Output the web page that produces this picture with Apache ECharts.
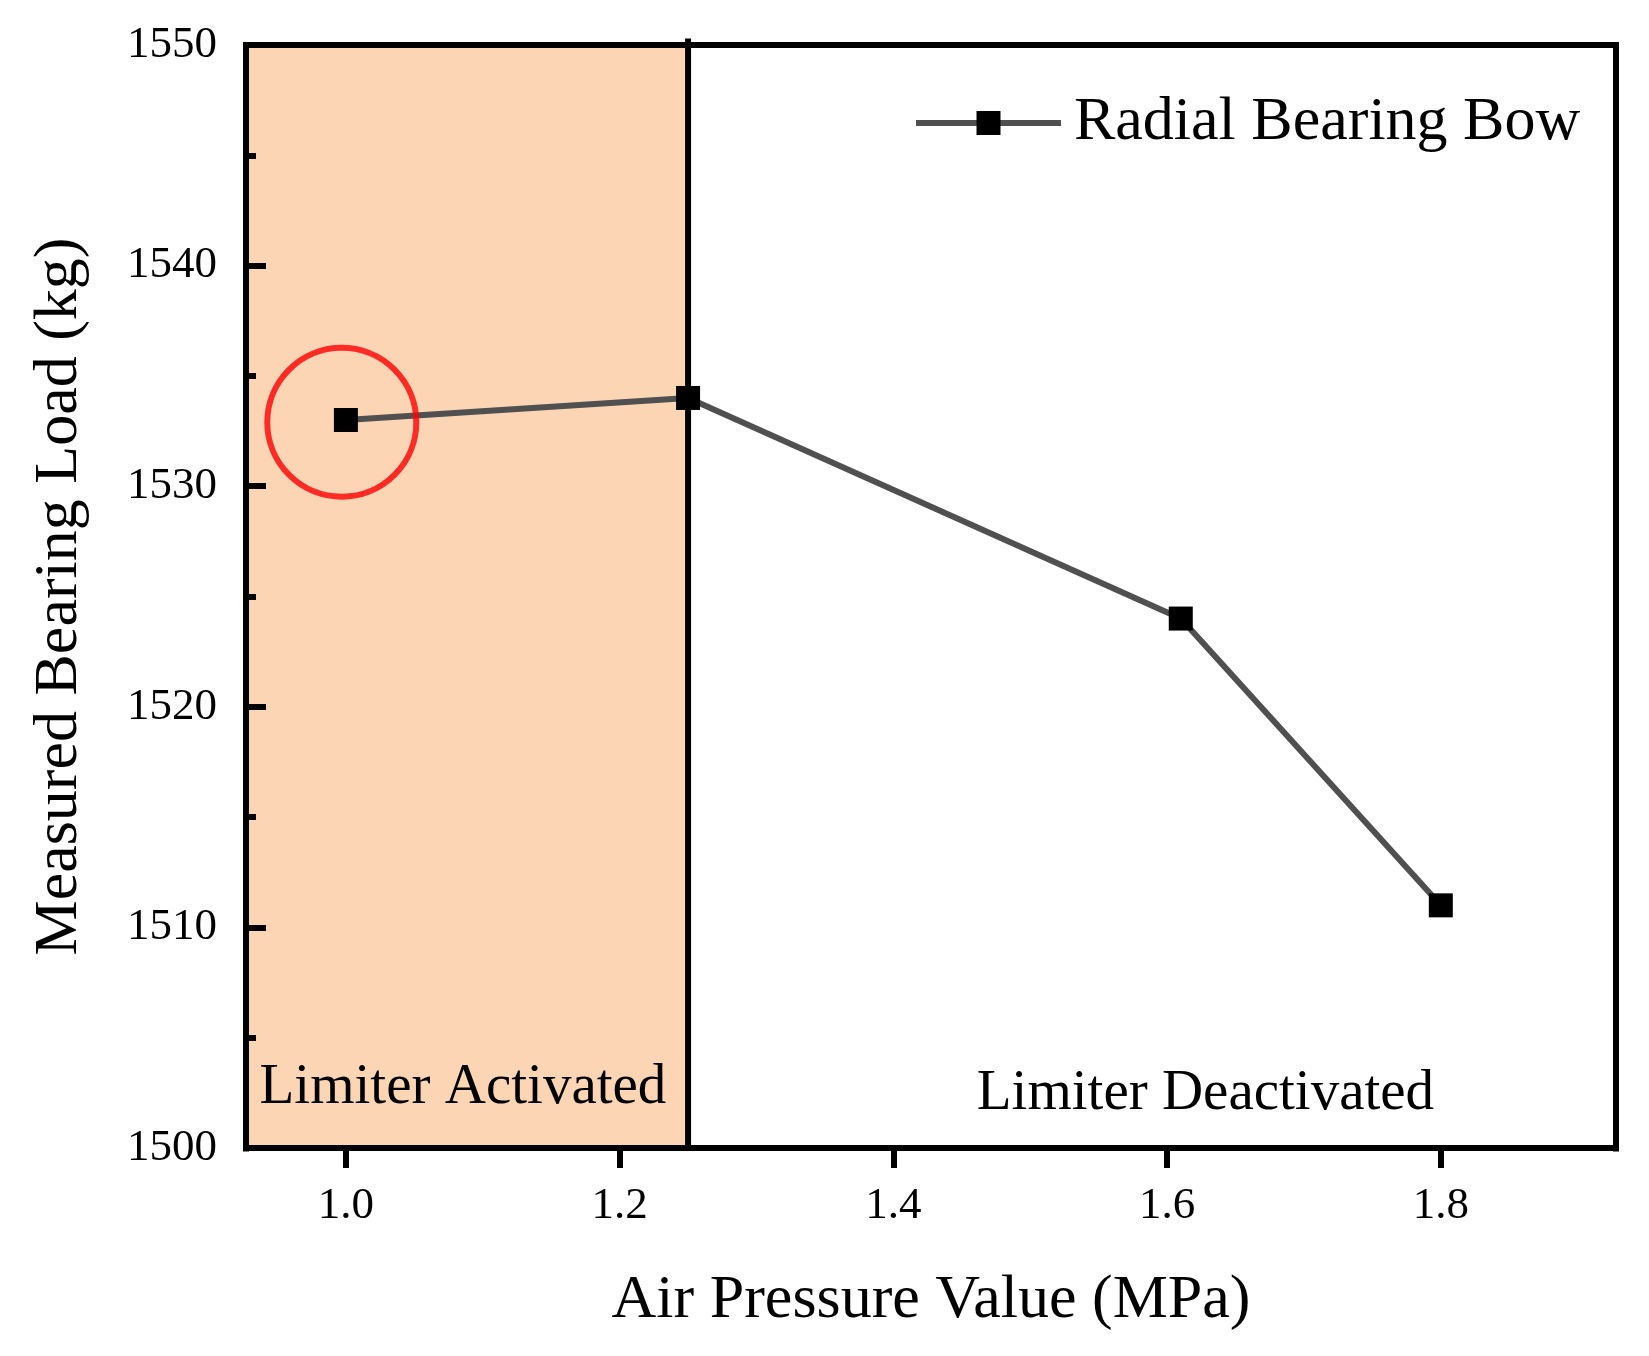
<!DOCTYPE html>
<html>
<head>
<meta charset="utf-8">
<script src="https://cdn.jsdelivr.net/npm/echarts@6/dist/echarts.min.js"></script>
<style>
html,body{margin:0;padding:0;background:#fff;}
#c{width:1649px;height:1356px;}
</style>
</head>
<body>
<div id="c"></div>
<script>
// ---- data ----
const pressure = [1.0, 1.25, 1.61, 1.8];          // MPa
const load = [1533, 1534, 1524, 1511];            // kg
const xTicks = [1.0, 1.2, 1.4, 1.6, 1.8];
const yTicks = [1500, 1510, 1520, 1530, 1540, 1550];
const limiterBoundary = 1.25;
const highlighted = [[0.997, 1532.9]];            // red circled point
const seriesName = 'Radial Bearing Bow';
const regionNames = ['Limiter Activated', 'Limiter Deactivated'];

const FONT = '"Liberation Serif", "Times New Roman", serif';
const xMin = 0.927, xMax = 1.928;
const yMin = yTicks[0], yMax = yTicks[yTicks.length - 1];
const W = 6;

const chart = echarts.init(document.getElementById('c'));
chart.setOption({
  animation: false,
  backgroundColor: '#fff',
  textStyle: { fontFamily: FONT, color: '#000' },
  grid: { left: 246, right: 33, top: 45, bottom: 208, show: true, borderColor: '#000', borderWidth: W, backgroundColor: 'transparent', z: 10 },
  legend: {
    data: [seriesName],
    left: 913, top: 92, padding: 0,
    itemWidth: 145, itemHeight: 30, itemGap: 10,
    lineStyle: { color: '#505050', width: W },
    itemStyle: { color: '#000' },
    textStyle: { fontFamily: FONT, fontSize: 62, color: '#000', padding: [0, 0, 0, 8] }
  },
  xAxis: {
    type: 'value', min: xMin, max: xMax, z: 10,
    name: 'Air Pressure Value (MPa)', nameLocation: 'middle', nameGap: 122,
    nameTextStyle: { fontFamily: FONT, fontSize: 62, color: '#000', lineHeight: 62 },
    axisLine: { show: true, onZero: false, lineStyle: { color: '#000', width: W } },
    axisTick: { show: true, inside: false, length: 20, lineStyle: { color: '#000', width: W } },
    axisLabel: { fontFamily: FONT, fontSize: 45, color: '#000', margin: 36, customValues: xTicks, formatter: v => v.toFixed(1) },
    splitLine: { show: false }
  },
  yAxis: {
    type: 'value', min: yMin, max: yMax, interval: 10, z: 10,
    name: 'Measured Bearing Load (kg)', nameLocation: 'middle', nameGap: 155,
    nameTextStyle: { fontFamily: FONT, fontSize: 62, color: '#000' },
    axisLine: { show: true, onZero: false, lineStyle: { color: '#000', width: W } },
    axisTick: { show: true, inside: true, length: 20, lineStyle: { color: '#000', width: W } },
    minorTick: { show: true, splitNumber: 2, length: 10, lineStyle: { color: '#000', width: W } },
    axisLabel: { fontFamily: FONT, fontSize: 45, color: '#000', margin: 29, formatter: v => String(v) },
    splitLine: { show: false }
  },
  series: [
    {
      name: 'boundary',
      type: 'line',
      data: [[limiterBoundary, yMin], [limiterBoundary, 1550.3]],
      symbol: 'none',
      lineStyle: { color: '#000', width: W },
      z: 4, silent: true, clip: false,
      markArea: {
        silent: true,
        itemStyle: { color: '#FCD5B5' },
        label: { show: false },
        z: 1,
        data: [[{ xAxis: xMin, yAxis: yMin }, { xAxis: limiterBoundary, yAxis: yMax }]]
      }
    },
    {
      name: seriesName,
      type: 'line',
      data: pressure.map((x, i) => [x, load[i]]),
      symbol: 'rect', symbolSize: 24,
      itemStyle: { color: '#000' },
      lineStyle: { color: '#505050', width: W },
      z: 5,
      markPoint: {
        silent: true, symbol: 'circle', symbolSize: 1,
        itemStyle: { color: 'transparent' },
        label: { show: true, position: 'inside', fontFamily: FONT, fontSize: 57, color: '#000' },
        data: [
          { coord: [1.0855, 1502.7], value: regionNames[0], label: { formatter: regionNames[0] } },
          { coord: [1.628, 1502.45], value: regionNames[1], label: { formatter: regionNames[1] } }
        ]
      }
    },
    {
      name: 'highlight',
      type: 'scatter',
      data: highlighted,
      symbol: 'circle', symbolSize: 149,
      itemStyle: { color: 'transparent', borderColor: '#ff0000', borderWidth: W },
      z: 6, silent: true
    }
  ]
});

// The scale adds ticks at the (non-round) axis ends; the reference has none there,
// so mask those two outward ticks, located through the library's own scale.
try {
  const pMin = chart.convertToPixel({ xAxisIndex: 0, yAxisIndex: 0 }, [xMin, yMin]);
  const pMax = chart.convertToPixel({ xAxisIndex: 0, yAxisIndex: 0 }, [xMax, yMin]);
  const mask = p => ({
    type: 'rect', z: 100, silent: true,
    shape: { x: p[0] - 6, y: p[1] + W / 2 + 0.5, width: 12, height: 26 },
    style: { fill: '#ffffff' }
  });
  chart.setOption({ graphic: [mask(pMin), mask(pMax)] });
} catch (e) {}
</script>
</body>
</html>
